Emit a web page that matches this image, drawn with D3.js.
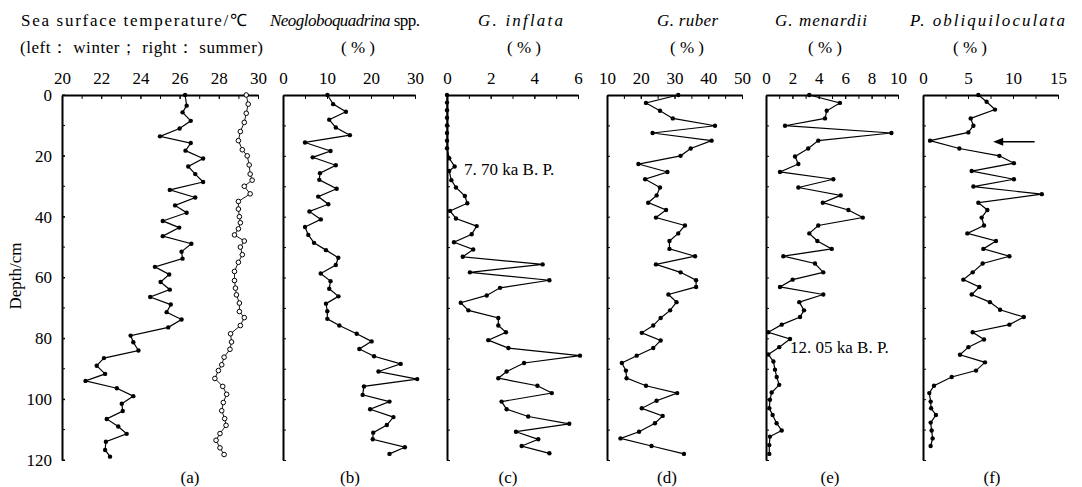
<!DOCTYPE html>
<html>
<head>
<meta charset="utf-8">
<script src="https://cdn.jsdelivr.net/npm/d3@7"></script>
<style>
  body { margin: 0; background: #fff; }
  svg text { font-family: "Liberation Serif", "Times New Roman", Times, serif; }
</style>
</head>
<body>
<script>
// data: [depth cm, value]
var sstWinter = [[0,26.28],[3.5,26.36],[5.7,26.15],[8.5,26.57],[11,26.0],[13.6,25.0],[15.8,26.57],[18.3,26.3],[20.9,27.2],[23.5,26.44],[26,26.8],[28.6,27.2],[31.2,25.5],[33.7,26.8],[36.3,25.77],[38.7,26.36],[41.4,25.14],[43.6,25.98],[46.4,25.14],[48.9,26.6],[51.5,26.1],[53.8,26.15],[56.5,24.74],[59,25.47],[61.5,25.03],[64,25.5],[66.4,24.5],[68.9,25.55],[71.4,25.34],[73.8,26.1],[76.4,25.42],[79.1,23.5],[81.3,23.64],[84,23.9],[86.5,22.14],[89,21.77],[91.7,22.2],[94,21.2],[96.4,22.8],[99,23.64],[101.5,23.05],[103.9,23.1],[106.5,22.28],[109,22.87],[111.4,23.3],[114,22.24],[116.7,22.2],[118.9,22.45]];
var sstSummer = [[0,29.4],[3,29.5],[6,29.4],[9,29.3],[12,29.1],[15,29.0],[18,29.2],[20,29.45],[23,29.55],[26,29.6],[28,29.7],[30,29.3],[32.5,29.6],[35,29.0],[37.5,29.0],[40,29.05],[42,29.1],[44,29.0],[46,28.8],[48,29.3],[50,29.1],[52.5,29.2],[55,29.0],[58,28.8],[61,28.8],[63.5,28.85],[65.7,28.9],[68.4,29.05],[71.2,29.05],[73.2,29.3],[75.8,29.1],[78.5,28.6],[81.2,28.65],[83.6,28.57],[86.2,28.27],[88.7,28.15],[90.6,27.98],[93.2,27.8],[95.8,28.2],[98.4,28.4],[101.1,28.23],[103.8,28.15],[106.4,28.3],[108.6,28.37],[111.3,28.06],[113.5,27.86],[116,28.06],[118.2,28.27]];
var neoglo = [[0,10.1],[3,11.4],[5.5,14.3],[8.1,10.5],[10.7,12.0],[13.2,15.2],[15.6,5.0],[18.4,10.8],[20.5,6.75],[23.1,12.0],[25.7,8.4],[27.9,8.25],[30.8,12.2],[33.4,8.0],[35.9,10.3],[38.3,6.0],[40.9,8.6],[43.4,5.0],[46,5.75],[48.6,7.05],[51,9.77],[53.5,12.57],[55.9,12.0],[58.7,8.57],[61.2,10.8],[63.7,10.5],[66.2,12.6],[68.6,9.77],[71.1,10.07],[73.6,10.07],[75.8,12.8],[78.5,16.75],[81,20.15],[83.5,17.35],[85.9,20.7],[88.4,26.75],[90.9,21.7],[93.4,30.5],[95.8,18.4],[98.6,18.1],[100.8,24.2],[103.3,19.8],[105.9,25.1],[108.5,23.6],[111,20.5],[113.2,20.4],[115.8,27.7],[118,24.2]];
var inflata = [[0,0],[2.5,0],[5,0],[7.5,0],[10,0],[12.5,0],[15,0],[17.5,0],[20.8,0.1],[23.5,0.35],[25,0.1],[28,0.2],[30.4,0.41],[33.2,0.82],[35.6,0.93],[38.1,0.14],[40.6,0.41],[43.1,1.36],[45.8,1.13],[48.4,0.32],[50.8,1.2],[53.2,0.72],[55.7,4.38],[58.3,1.05],[60.9,4.69],[63.4,2.43],[65.9,1.82],[68.3,0.63],[70.8,0.98],[73.3,2.35],[75.8,2.35],[78,2.7],[80.6,1.89],[83.2,2.81],[85.7,6.09],[88.1,3.53],[90.9,2.73],[93.1,2.35],[95.6,4.14],[98,4.8],[100.8,2.5],[103.3,2.73],[105.7,3.72],[108.1,5.6],[110.7,3.16],[113.2,4.18],[115.4,3.42],[117.8,4.69]];
var ruber = [[0,31.1],[2.6,21.55],[5.2,25.7],[7.7,29.5],[10.1,42.0],[12.5,23.5],[15,41.0],[17.6,34.8],[20,31.8],[22.7,19.3],[25.3,27.9],[27.7,21.3],[30.4,25.7],[33,24.7],[35.4,22.2],[37.8,27.5],[40.3,24.5],[42.9,33.1],[45.5,31.1],[48,28.5],[50.6,28.5],[53,36.1],[55.7,24.5],[58.3,31.8],[60.9,36.4],[63.1,36.4],[65.6,28.2],[68.1,30.6],[70.8,28.7],[73.3,25.9],[75.8,23.7],[78.2,20.3],[80.7,25.9],[83.2,23.7],[85.7,18.8],[88.1,14.4],[90.6,15.6],[93.1,15.8],[95.6,21.55],[98,30.8],[100.5,24.7],[103,20.3],[105.5,26.5],[107.9,24.2],[110.7,19.5],[112.9,14.0],[115.4,23.2],[118,32.8]];
var menardii = [[0,3.28],[2.6,5.6],[5.2,4.6],[7.7,4.47],[10.1,1.44],[12.5,9.5],[15,3.96],[17.6,3.2],[20.2,2.2],[22.7,2.45],[25.3,1.06],[27.7,5.1],[30.4,2.45],[33,5.66],[35.4,4.3],[37.8,6.24],[40.3,7.33],[42.9,3.96],[45.5,3.28],[48,3.89],[50.6,4.98],[53,1.31],[55.4,3.71],[58.3,4.34],[60.7,2.02],[63.1,1.06],[65.6,4.34],[68.1,2.52],[70.8,2.88],[73,2.58],[75.5,1.19],[78,0.17],[80.2,1.82],[82.9,1.0],[85.3,0.17],[87.6,0.56],[90.3,0.68],[92.7,0.81],[95.3,1.0],[97.8,0.43],[100.2,0.3],[103,0.25],[105.2,0.5],[107.9,0.8],[110.3,1.19],[112.3,0.3],[115.1,0.25],[118,0.25]];
var obliqui = [[0,6.15],[2.2,7.07],[4.8,8.0],[7.7,5.3],[10.1,5.6],[12.3,5.04],[15,0.78],[17.6,4.04],[20,8.48],[22.4,10.1],[25,5.41],[27.7,10.1],[30.1,5.6],[32.6,13.2],[35.4,6.15],[37.8,7.15],[40.3,6.52],[42.9,6.78],[45.5,4.93],[48,8.11],[50.6,6.7],[53,9.6],[55.4,6.63],[58.3,5.52],[60.7,4.48],[63.1,6.26],[65.6,5.41],[68.1,7.44],[70.6,8.56],[73,11.2],[75.5,9.6],[78,5.52],[80.4,6.78],[82.9,5.04],[85.4,4.11],[87.9,6.89],[90.6,5.89],[92.7,3.19],[95.6,1.22],[98,0.7],[100.8,0.85],[103,0.9],[105.2,1.44],[107.7,0.85],[110.3,0.96],[112.9,1.07],[115.4,0.85]];

var depthTicks = [0, 20, 40, 60, 80, 100, 120];
var depthMinor = [0, 10, 20, 30, 40, 50, 60, 70, 80, 90, 100, 110, 120];

var width = 1082, height = 487;
var yTop = 95, yBottom = 460;
var serif = "Liberation Serif, Times New Roman, serif";

// one entry per panel (layout)
var panels = [
  {id: "a", x0: 62, x1: 258, domain: [20, 30], ticks: [20,22,24,26,28,30], minor: 1, label: "(a)", lx: 190},
  {id: "b", x0: 283, x1: 415, domain: [0, 30], ticks: [0,10,20,30], minor: 5, label: "(b)", lx: 350},
  {id: "c", x0: 447, x1: 578, domain: [0, 6], ticks: [0,2,4,6], minor: 1, label: "(c)", lx: 508},
  {id: "d", x0: 607, x1: 742, domain: [10, 50], ticks: [10,20,30,40,50], minor: 5, label: "(d)", lx: 667},
  {id: "e", x0: 766, x1: 898, domain: [0, 10], ticks: [0,2,4,6,8,10], minor: 1, label: "(e)", lx: 830},
  {id: "f", x0: 923, x1: 1058, domain: [0, 15], ticks: [0,5,10,15], minor: 2.5, label: "(f)", lx: 992}
];

var svg = d3.select("body").append("svg")
  .attr("width", width)
  .attr("height", height)
  .attr("font-family", serif);

var y = d3.scaleLinear().domain([0, 120]).range([yTop, yBottom]);

function fixText(x, baseline, len, italic) {
  var t = svg.append("text")
    .attr("x", x).attr("y", baseline)
    .attr("font-family", serif)
    .attr("font-size", 17)
    .attr("textLength", len)
    .attr("lengthAdjust", "spacing");
  if (italic) t.attr("font-style", "italic");
  return t;
}

// titles, first line
fixText(21, 26, 226).text("Sea surface temperature/℃");
var neo = fixText(270, 26, 150);
neo.append("tspan").attr("font-style", "italic").text("Neogloboquadrina");
neo.append("tspan").text(" spp.");
fixText(478, 26, 85, true).text("G. inflata");
fixText(657, 26, 61, true).text("G. ruber");
fixText(775, 26, 92, true).text("G. menardii");
fixText(910, 26, 155, true).text("P. obliquiloculata");

// second line
fixText(20, 53, 243).text("(left： winter； right： summer)");
[358, 524, 687, 825, 970].forEach(function (cx) {
  svg.append("text")
    .attr("x", cx).attr("y", 53)
    .attr("font-family", serif)
    .attr("font-size", 17)
    .attr("text-anchor", "middle")
    .text("( % )");
});

var line = function (x) {
  return d3.line().x(function (d) { return x(d[1]); }).y(function (d) { return y(d[0]); });
};

var xs = {};
panels.forEach(function (p) {
  var x = d3.scaleLinear().domain(p.domain).range([p.x0, p.x1]);
  xs[p.id] = x;
  var g = svg.append("g");

  // minor ticks on top
  var minor = d3.range(p.domain[0], p.domain[1] + 0.001, p.minor);
  g.append("g")
    .attr("transform", "translate(0," + yTop + ")")
    .call(d3.axisTop(x).tickValues(minor).tickSize(-4).tickSizeOuter(0).tickFormat(""))
    .call(function (a) { a.select(".domain").remove(); });

  // labelled top axis
  g.append("g")
    .attr("transform", "translate(0," + yTop + ")")
    .call(d3.axisTop(x).tickValues(p.ticks).tickSize(-4).tickSizeOuter(0).tickPadding(11)
      .tickFormat(d3.format("d")))
    .call(function (a) {
      a.attr("font-family", serif);
      a.select(".domain").attr("stroke-width", 2);
      a.selectAll("text").attr("font-size", 17);
    });

  // left axis
  g.append("g")
    .attr("transform", "translate(" + p.x0 + ",0)")
    .call(d3.axisLeft(y).tickValues(p.id === "a" ? depthTicks : depthMinor).tickSize(-3).tickSizeOuter(0).tickPadding(10)
      .tickFormat(p.id === "a" ? d3.format("d") : ""))
    .call(function (a) {
      a.attr("font-family", serif);
      a.select(".domain").attr("stroke-width", 2);
      a.selectAll("text").attr("font-size", 17);
    });

  if (p.id === "a") {
    depthMinor.forEach(function (v) {
      g.append("line").attr("x1", p.x0).attr("x2", p.x0 + 3)
        .attr("y1", y(v)).attr("y2", y(v)).attr("stroke", "#000");
    });
  }

  svg.append("text")
    .attr("x", p.lx).attr("y", 483)
    .attr("font-family", serif)
    .attr("font-size", 17)
    .attr("text-anchor", "middle")
    .text(p.label);
});

function series(data, x, open) {
  svg.append("path")
    .datum(data)
    .attr("d", line(x))
    .attr("fill", "none")
    .attr("stroke", "#000")
    .attr("stroke-width", open ? 0.9 : 1.2);
  svg.append("g").selectAll("circle")
    .data(data)
    .enter().append("circle")
    .attr("cx", function (d) { return x(d[1]); })
    .attr("cy", function (d) { return y(d[0]); })
    .attr("r", open ? 2.3 : 2.2)
    .attr("fill", open ? "#fff" : "#000")
    .attr("stroke", "#000")
    .attr("stroke-width", open ? 1 : 0);
}

series(sstWinter, xs.a, false);
series(sstSummer, xs.a, true);
series(neoglo, xs.b, false);
series(inflata, xs.c, false);
series(ruber, xs.d, false);
series(menardii, xs.e, false);
series(obliqui, xs.f, false);

// age markers
svg.append("text").attr("x", 464).attr("y", 175).attr("font-size", 17)
  .attr("font-family", serif).text("7. 70  ka B. P.");
svg.append("text").attr("x", 790).attr("y", 353).attr("font-size", 17)
  .attr("font-family", serif).text("12. 05  ka B. P.");

// arrow in (f)
var ay = y(15.4);
svg.append("line")
  .attr("x1", xs.f(12.4)).attr("x2", xs.f(8.6))
  .attr("y1", ay).attr("y2", ay)
  .attr("stroke", "#000").attr("stroke-width", 1.5);
svg.append("path")
  .attr("d", "M" + xs.f(7.8) + "," + ay + "l10,-4l0,8z")
  .attr("fill", "#000");

// depth label
svg.append("text")
  .attr("transform", "translate(21,276) rotate(-90)")
  .attr("text-anchor", "middle")
  .attr("font-family", serif)
  .attr("font-size", 17)
  .text("Depth/cm");
</script>
</body>
</html>
